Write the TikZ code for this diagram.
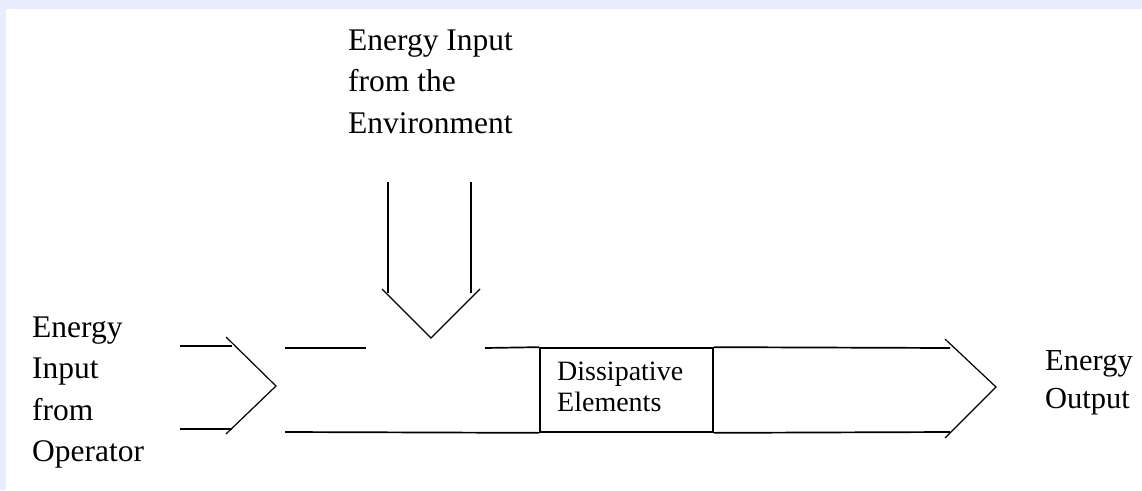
\documentclass[tikz,border=0pt]{standalone}
\usepackage{fontspec}
\setmainfont{Liberation Serif}
\definecolor{pagetint}{RGB}{232,236,252}
\tikzset{
  pipe/.style={line width=1.7pt, line cap=butt},
  chevron/.style={line width=1.2pt, line join=miter},
  label/.style={inner sep=0pt, anchor=base west, font=\fontsize{31.5}{41.5}\selectfont},
}
\begin{document}
\begin{tikzpicture}[x=1pt, y=-1pt]
  % page: tinted frame on the top and left, white sheet
  \useasboundingbox (0,0) rectangle (1142,490);
  \fill[pagetint] (0,0) rectangle (1142,490);
  \fill[white] (6,9) rectangle (1142,490);

  % labels
  \node[label] (envtext) at (348,50)
    {\begin{tabular}[t]{@{}l@{}}Energy Input\\from the\\Environment\end{tabular}};
  \node[label] (optext) at (32,337)
    {\begin{tabular}[t]{@{}l@{}}Energy\\Input\\from\\Operator\end{tabular}};
  \node[label, font=\fontsize{30.5}{38}\selectfont] (outtext) at (1045,370)
    {\begin{tabular}[t]{@{}l@{}}Energy\\Output\end{tabular}};

  % dissipative element sitting inside the channel
  \node[draw, line width=1.7pt, minimum width=173pt, minimum height=84pt,
        inner sep=0pt] (diss) at (626.5,390) {};
  \node[label, font=\fontsize{28}{31}\selectfont] (disstext) at (557,380)
    {\begin{tabular}[t]{@{}l@{}}Dissipative\\Elements\end{tabular}};

  % operator input arrow
  \coordinate (opTopA) at (180,346);  \coordinate (opTopB) at (232,346);
  \coordinate (opBotA) at (180,429);  \coordinate (opBotB) at (232,429);
  \coordinate (opHeadT) at (226,337); \coordinate (opTip) at (276,386);
  \coordinate (opHeadB) at (226,434);
  \draw[pipe] (opTopA) -- (opTopB);
  \draw[pipe] (opBotA) -- (opBotB);
  \draw[chevron] (opHeadT) -- (opTip) -- (opHeadB);

  % environment input arrow
  \coordinate (envLA) at (388,182);  \coordinate (envLB) at (388,293);
  \coordinate (envRA) at (471,182);  \coordinate (envRB) at (471,293);
  \coordinate (envHeadL) at (382,289); \coordinate (envTip) at (431,338);
  \coordinate (envHeadR) at (480,289);
  \draw[pipe] (envLA) -- (envLB);
  \draw[pipe] (envRA) -- (envRB);
  \draw[chevron] (envHeadL) -- (envTip) -- (envHeadR);

  % main channel with its opening for the environment input
  \coordinate (chTop1A) at (285,348); \coordinate (chTop1B) at (366,348);
  \coordinate (chTop2A) at (485,348); \coordinate (chTopEnd) at (950,348);
  \coordinate (chBotA) at (285,432);  \coordinate (chBotEnd) at (950,432);
  \draw[pipe] (chTop1A) -- (chTop1B);
  \draw[pipe] (chTop2A) -- (diss.north west);
  \draw[pipe] (diss.north east) -- (chTopEnd);
  \draw[pipe] (chBotA) -- (diss.south west);
  \draw[pipe] (diss.south east) -- (chBotEnd);

  % output arrow head
  \coordinate (outHeadT) at (945,339); \coordinate (outTip) at (996,387);
  \coordinate (outHeadB) at (945,438);
  \draw[chevron] (outHeadT) -- (outTip) -- (outHeadB);
\end{tikzpicture}
\end{document}
